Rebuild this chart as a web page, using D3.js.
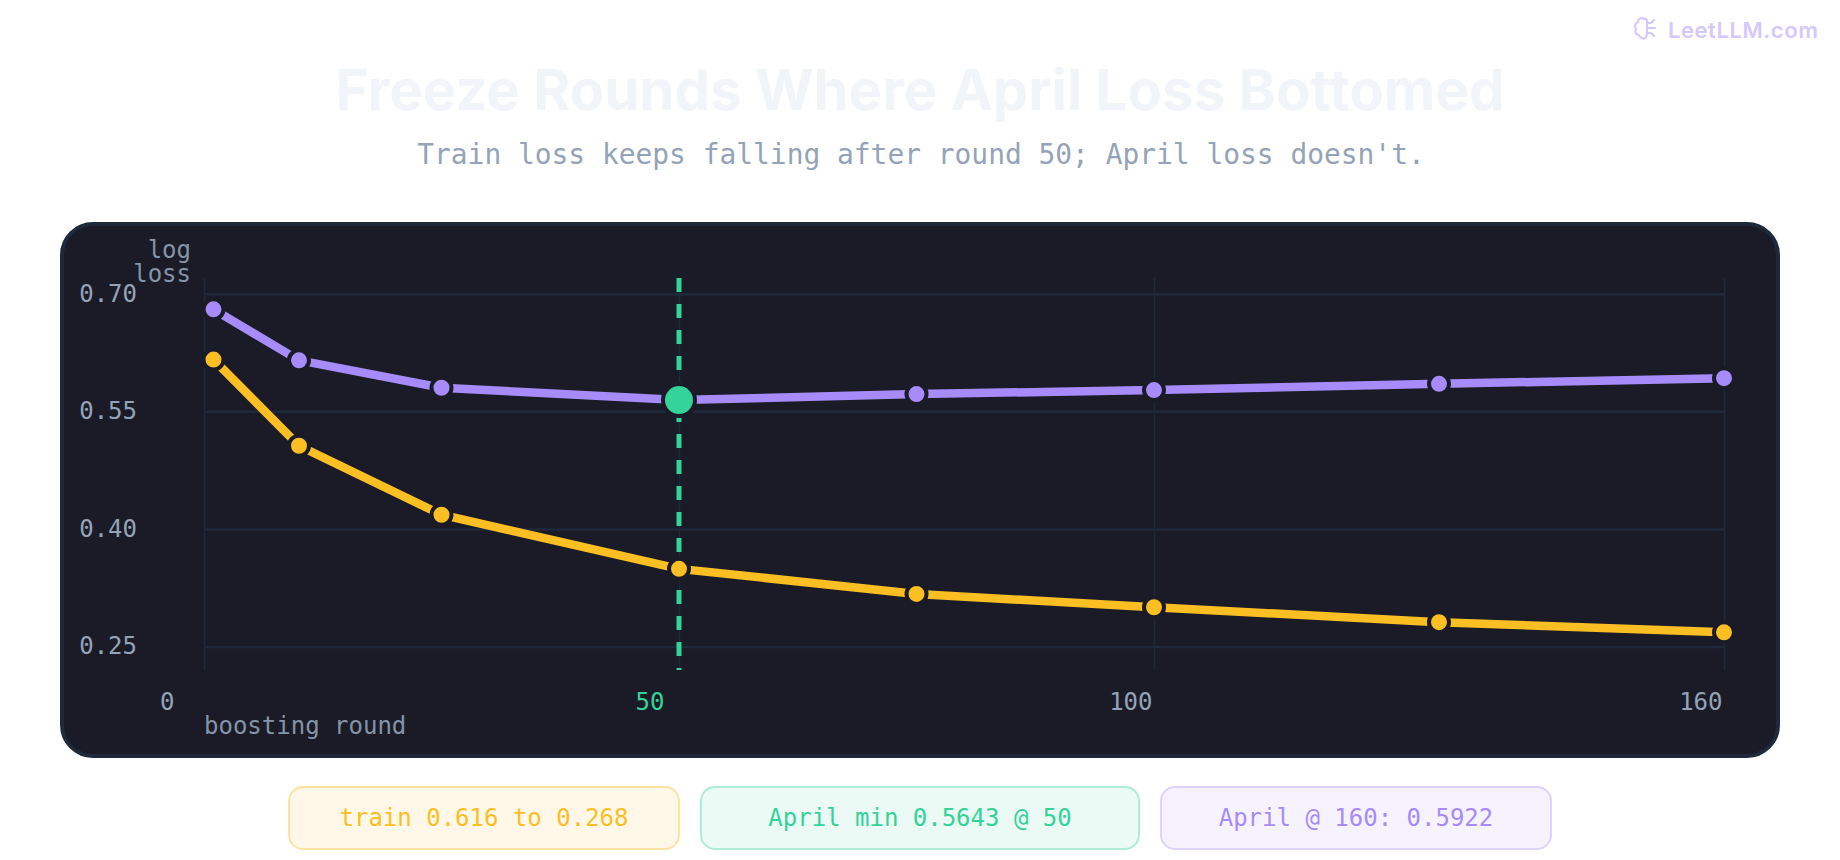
<!DOCTYPE html>
<html>
<head>
<meta charset="utf-8">
<title>Freeze Rounds Where April Loss Bottomed</title>
<script src="https://cdn.jsdelivr.net/npm/d3@7"></script>
<style>
  html, body { margin: 0; padding: 0; background: #fff; overflow: hidden; }
  svg { display: block; }
  text { font-family: "DejaVu Sans Mono", monospace; }
  .sans { font-family: Inter, sans-serif; }
</style>
</head>
<body>
<script>
// Values
var rounds = [1, 10, 25, 50, 75, 100, 130, 160];
var trainLoss = [0.616, 0.506, 0.418, 0.349, 0.317, 0.300, 0.281, 0.268];
var aprilLoss = [0.680, 0.615, 0.580, 0.5643, 0.572, 0.577, 0.585, 0.5922];
var bestRound = 50;
var bestLoss = 0.5643;

var xTicks = [0, 50, 100, 160];
var yTicks = [0.25, 0.40, 0.55, 0.70];
var xDomain = [0, 160];
var yDomain = [0.22, 0.72];
var pills = ["train 0.616 to 0.268", "April min 0.5643 @ 50", "April @ 160: 0.5922"];

var PANEL = "#1a1b26", GRID = "#1e293b", LABEL = "#94a3b8", MUTED = "#8594a8";
var YELLOW = "#fbbf24", GREEN = "#34d399", PURPLE = "#a78bfa";

var svg = d3.select("body").append("svg").attr("width", 1840).attr("height", 860);

// Header
svg.append("text").attr("class", "sans")
  .attr("x", 920).attr("y", 110).attr("text-anchor", "middle")
  .attr("font-size", 56.4).attr("font-weight", 700).attr("fill", "#f1f5f9")
  .text("Freeze Rounds Where April Loss Bottomed");

svg.append("text")
  .attr("x", 921).attr("y", 164).attr("text-anchor", "middle")
  .attr("font-size", 27.9).attr("fill", LABEL)
  .text("Train loss keeps falling after round 50; April loss doesn't.");

// Logo
var logo = svg.append("g").attr("transform", "translate(1633,16)")
  .attr("fill", "none").attr("stroke", "#d4c8fe").attr("stroke-width", 2.2)
  .attr("stroke-linecap", "round").attr("stroke-linejoin", "round");
logo.append("path").attr("d", "M11 3c-3-2-6 0-6 3c-3 1-4 5-2 7c-2 3 0 6 3 6c1 3 5 5 7 2c1-1 1-2 1-3V5c0-1-1-3-3-2z");
logo.append("path").attr("d", "M14 7h4l3-3M14 12h8M14 17h4l3 3");
svg.append("text").attr("class", "sans")
  .attr("x", 1668).attr("y", 38).attr("font-size", 22).attr("font-weight", 600)
  .attr("letter-spacing", 0.55).attr("fill", "#d4c8fe").text("LeetLLM.com");

// Panel
svg.append("rect")
  .attr("x", 62).attr("y", 224).attr("width", 1716).attr("height", 532).attr("rx", 31)
  .attr("fill", PANEL).attr("stroke", GRID).attr("stroke-width", 4);

var x = d3.scaleLinear().domain(xDomain).range([204, 1724]);
var y = d3.scaleLinear().domain(yDomain).range([670, 278]);

// x axis: its labels sit to the left of the gridlines
var xLabelShift = { 0: -30, 50: -15, 100: -2, 160: -2 };
var xAxis = svg.append("g").attr("transform", "translate(0,670)")
  .call(d3.axisBottom(x).tickValues(xTicks).tickSize(-392).tickSizeOuter(0).tickPadding(0)
    .tickFormat(d3.format("d")));
xAxis.select(".domain").remove();
xAxis.selectAll("line").attr("stroke", GRID).attr("stroke-width", 1.5);
xAxis.selectAll("text")
  .attr("y", 40).attr("dy", 0)
  .attr("dx", function (d) { return xLabelShift[d]; })
  .attr("text-anchor", "end").attr("font-size", 24)
  .attr("fill", function (d) { return d === bestRound ? GREEN : LABEL; });

// y axis
var yAxis = svg.append("g").attr("transform", "translate(204,0)")
  .call(d3.axisLeft(y).tickValues(yTicks).tickSize(-1520).tickSizeOuter(0).tickPadding(0)
    .tickFormat(d3.format(".2f")));
yAxis.select(".domain").remove();
yAxis.selectAll("line").attr("stroke", GRID).attr("stroke-width", 2.5);
yAxis.selectAll("text")
  .attr("x", -67).attr("dy", 7.5).attr("text-anchor", "end")
  .attr("font-size", 24).attr("fill", LABEL);

// Axis titles
svg.append("text").attr("x", 191).attr("y", 258).attr("text-anchor", "end")
  .attr("font-size", 24).attr("fill", MUTED).text("log");
svg.append("text").attr("x", 191).attr("y", 282).attr("text-anchor", "end")
  .attr("font-size", 24).attr("fill", MUTED).text("loss");
svg.append("text").attr("x", 204).attr("y", 734)
  .attr("font-size", 24).attr("fill", MUTED).text("boosting round");

// Marker for the best round
svg.append("line")
  .attr("x1", x(bestRound)).attr("x2", x(bestRound))
  .attr("y1", y(yDomain[1])).attr("y2", y(yDomain[0]))
  .attr("stroke", GREEN).attr("stroke-width", 5).attr("stroke-dasharray", "14 12");

// Series
var line = d3.line()
  .x(function (d) { return x(d[0]); })
  .y(function (d) { return y(d[1]); });

[[aprilLoss, PURPLE], [trainLoss, YELLOW]].forEach(function (s) {
  var pts = d3.zip(rounds, s[0]);
  svg.append("path").datum(pts).attr("d", line)
    .attr("fill", "none").attr("stroke", s[1]).attr("stroke-width", 8.5);
  svg.append("g").selectAll("circle").data(pts).enter().append("circle")
    .attr("cx", function (d) { return x(d[0]); })
    .attr("cy", function (d) { return y(d[1]); })
    .attr("r", 10)
    .attr("fill", s[1]).attr("stroke", PANEL).attr("stroke-width", 4);
});

svg.append("circle")
  .attr("cx", x(bestRound)).attr("cy", y(bestLoss)).attr("r", 16)
  .attr("fill", GREEN).attr("stroke", PANEL).attr("stroke-width", 4);

// Summary pills
var pillStyle = [
  { x: 289, w: 390, text: YELLOW, fill: "#fff8e9", border: "#fee3a0" },
  { x: 701, w: 438, text: GREEN, fill: "#ebfaf5", border: "#aeecd6" },
  { x: 1161, w: 390, text: PURPLE, fill: "#f6f3fe", border: "#ddd3fd" }
];
var pill = svg.append("g").selectAll("g").data(pills).enter().append("g");
pill.append("rect")
  .attr("x", function (d, i) { return pillStyle[i].x; })
  .attr("y", 787).attr("height", 62).attr("rx", 14)
  .attr("width", function (d, i) { return pillStyle[i].w; })
  .attr("fill", function (d, i) { return pillStyle[i].fill; })
  .attr("stroke", function (d, i) { return pillStyle[i].border; })
  .attr("stroke-width", 2);
pill.append("text")
  .attr("x", function (d, i) { return pillStyle[i].x + pillStyle[i].w / 2; })
  .attr("y", 825.5).attr("text-anchor", "middle").attr("font-size", 24)
  .attr("fill", function (d, i) { return pillStyle[i].text; })
  .text(function (d) { return d; });
</script>
</body>
</html>
